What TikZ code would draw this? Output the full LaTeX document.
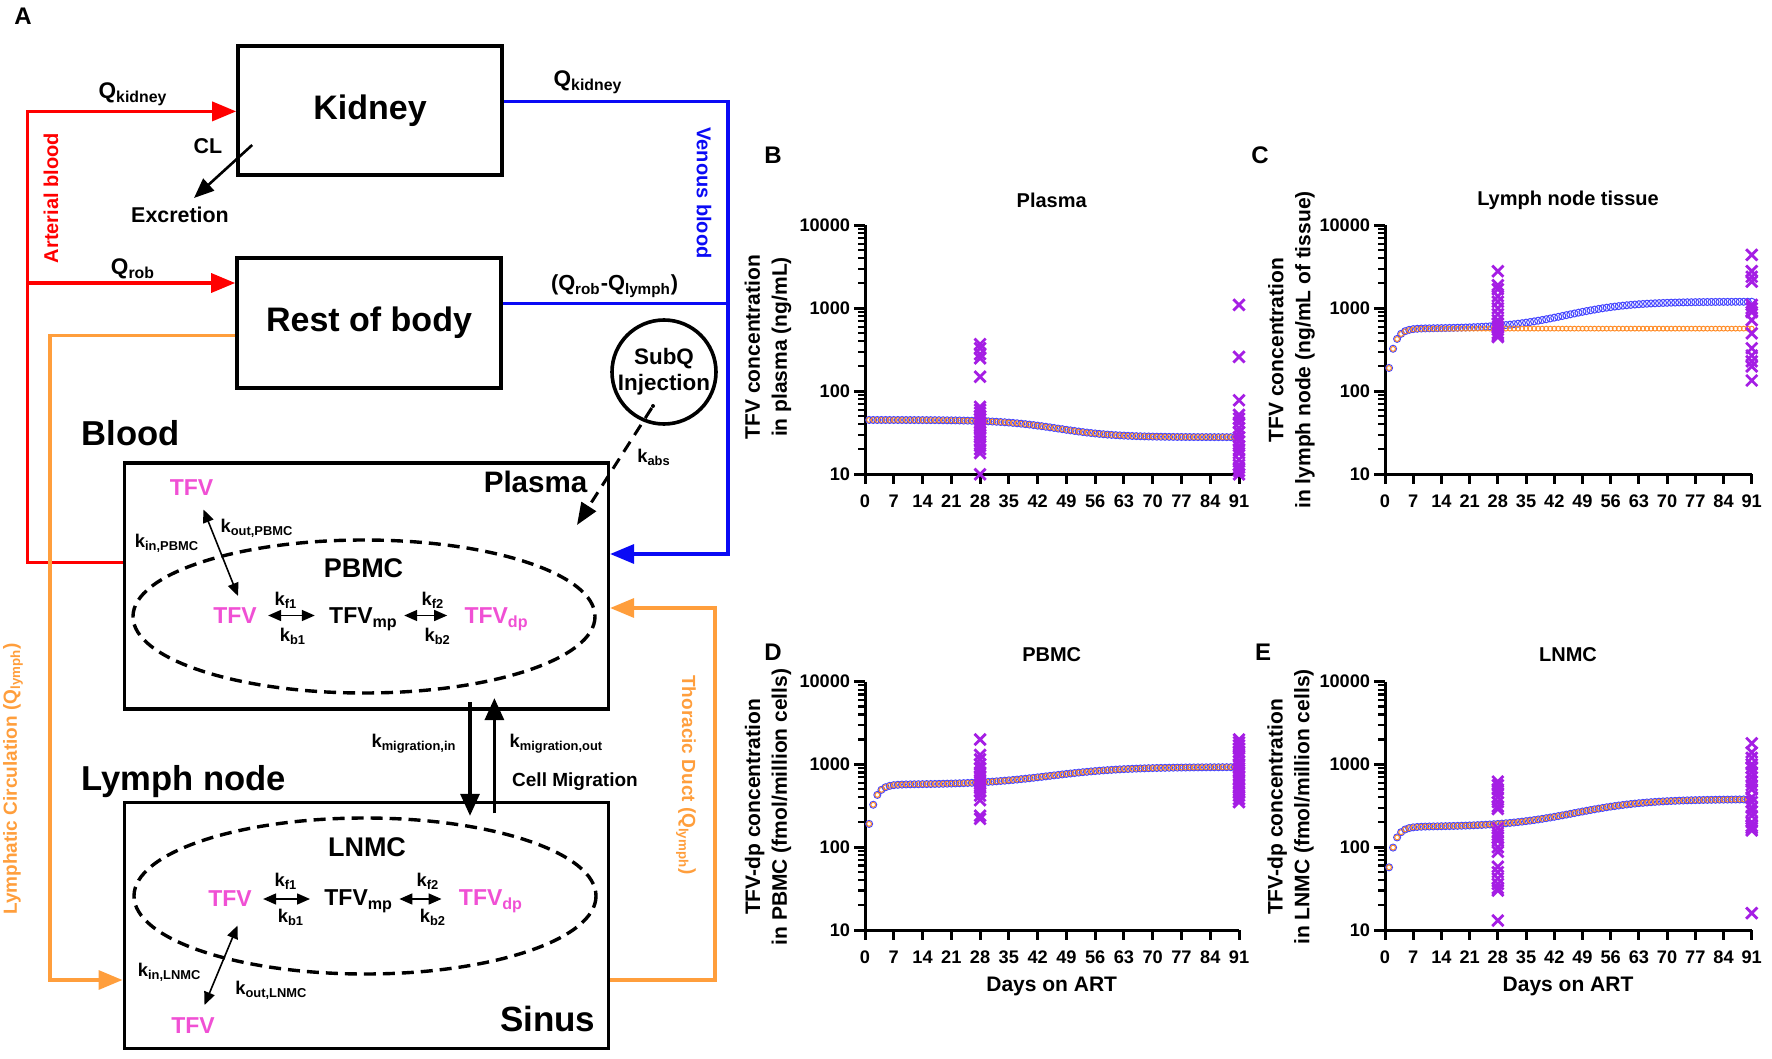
\documentclass[tikz,border=0pt]{standalone}
\usepackage{fontspec}
\setmainfont{Liberation Sans}
\usetikzlibrary{arrows.meta}
\definecolor{artred}{RGB}{255,0,0}
\definecolor{veinblue}{RGB}{10,10,245}
\definecolor{lymphorange}{RGB}{255,158,60}
\definecolor{tfvpink}{RGB}{240,80,212}
\definecolor{simblue}{RGB}{70,70,255}
\definecolor{simorange}{RGB}{255,140,40}
\definecolor{obspurple}{RGB}{165,30,228}

\newcommand{\fsz}[2]{\fontsize{#1}{#2}\selectfont\bfseries}
% one observed value as a cross
\newcommand{\obsx}[2]{\draw[obsmark] (#1,{log10(#2)-1}) +(-2.8pt,-2.8pt) -- +(2.8pt,2.8pt) +(-2.8pt,2.8pt) -- +(2.8pt,-2.8pt);}
% log axes, 10 to 10000, days 0 to 91
\newcommand{\logaxes}{%
  \foreach \d/\lab in {0/10,1/100,2/1000,3/10000}
    \draw[axisline] (0,\d) -- ++(-5.5pt,0) node[ticky] {\lab};
  \foreach \d in {0,1,2}
    \foreach \k in {2,...,9}
      \draw[minortick] (0,{\d+log10(\k)}) -- ++(-3.5pt,0);
  \foreach \t in {0,7,...,91}
    \draw[axisline] (\t,0) -- ++(0,-5pt) node[tickx] {\t};
  \draw[axisline] (0,3) -- (0,0) -- (91,0);
}

\begin{document}
\begin{tikzpicture}[x=0.5pt, y=-0.5pt, font=\bfseries,
    organ/.style={draw, line width=1.8pt, minimum width=132pt, minimum height=64.7pt, font=\fsz{17}{20}},
    region/.style={draw, line width=1.8pt, minimum width=242pt, minimum height=123pt},
    headlabel/.style={inner sep=1pt, font=\fsz{17.3}{20}},
    pooltitle/.style={inner sep=1pt, font=\fsz{13.5}{16}},
    drug/.style={inner sep=1pt, text=tfvpink, font=\fsz{11.5}{14}},
    species/.style={inner sep=1pt, font=\fsz{11.5}{14}},
    rate/.style={inner sep=1pt, font=\fsz{9.2}{11}},
    flowlabel/.style={inner sep=1pt, font=\fsz{11.3}{13}},
    sidelabel/.style={inner sep=1pt, font=\fsz{10}{12}},
    artery/.style={draw=artred, line width=1.7pt},
    vein/.style={draw=veinblue, line width=1.7pt},
    lymphflow/.style={draw=lymphorange, line width=1.7pt},
    bigtip/.style={-{Triangle[length=12pt,width=9.5pt]}},
    cellpool/.style={line width=1.7pt, dash pattern=on 6pt off 3.5pt},
    kdouble/.style={line width=0.8pt, {Triangle[length=6.5pt,width=5.5pt]}-{Triangle[length=6.5pt,width=5.5pt]}},
    migr/.style={line width=1.6pt, -{Triangle[length=11pt,width=9.5pt]}},
    axisline/.style={line width=1.5pt},
    minortick/.style={line width=1.1pt},
    ticky/.style={anchor=east, inner sep=1.2pt, font=\fsz{9.1}{10}},
    tickx/.style={anchor=north, inner sep=4.5pt, font=\fsz{9.1}{10}},
    simb/.style={draw=simblue, line width=0.5pt},
    simo/.style={draw=simorange, line width=0.5pt},
    obsmark/.style={draw=obspurple, line width=1.4pt},
    panellabel/.style={inner sep=1pt, font=\fsz{12}{14}},
    charttitle/.style={inner sep=1pt, font=\fsz{10}{12}},
    ylab/.style={rotate=90, align=center, inner sep=1pt, font=\fsz{10.5}{13.4}},
    xlab/.style={inner sep=1pt, font=\fsz{10.5}{13}}]
\useasboundingbox (0,0) rectangle (1772,1059);

%%% A: model
\node[panellabel] (labA) at (23,16) {A};

% compartments
\node[organ] (kidney) at (370,110.5) {Kidney};
\node[organ] (rob) at (369,323) {Rest of body};
\node[region] (blood) at (366.3,585.8) {};
\node[region] (lymph) at (366.3,925.6) {};
\node[headlabel] (bloodLab) at (131,433) {Blood};
\node[headlabel] (lymphLab) at (184,782) {Lymph node};
\node[headlabel, font=\fsz{14.8}{17}] (plasmaLab) at (535.6,482) {Plasma};
\node[headlabel, font=\fsz{17.5}{20}] (sinusLab) at (547.7,1019) {Sinus};

% arterial blood
\coordinate (artK) at (27.6,111.4);
\coordinate (artR) at (27.6,283);
\coordinate (artB) at (27.6,562.5);
\draw[artery, {Triangle[length=12pt,width=9.5pt]}-] (artK -| kidney.west) -- (artK) -- (artB) -- (artB -| blood.west);
\draw[artery, bigtip] (artR) -- (artR -| rob.west);
\node[flowlabel] (qkA) at (133,94) {Q\textsubscript{kidney}};
\node[flowlabel] (qrA) at (133,269) {Q\textsubscript{rob}};
\node[sidelabel, rotate=90, text=artred] (artLab) at (51,198) {Arterial blood};

% clearance
\node[flowlabel, font=\fsz{10.7}{13}] (clLab) at (208,146) {CL};
\node[flowlabel, font=\fsz{10.7}{13}] (excr) at (180,215) {Excretion};
\draw[line width=1.3pt, -{Triangle[length=10pt,width=8pt]}] ([shift={(16,-32)}]kidney.south west) -- ([shift={(14,-17)}]excr.center);

% venous blood
\coordinate (venK) at (728,101.4);
\coordinate (venR) at (728,303.5);
\coordinate (venB) at (728,554);
\draw[vein, bigtip] (kidney.east |- venK) -- (venK) -- (venB) -- (venB -| blood.east);
\draw[vein] (rob.east |- venR) -- (venR);
\node[flowlabel] (qkV) at (588,82) {Q\textsubscript{kidney}};
\node[flowlabel, font=\fsz{10.9}{13}] (qrV) at (614.6,286) {(Q\textsubscript{rob}-Q\textsubscript{lymph})};
\node[sidelabel, rotate=-90, text=veinblue] (venLab) at (704,193) {Venous blood};

% lymph flow
\coordinate (lymA) at (50,335.7);
\coordinate (lymB) at (50,980);
\coordinate (lymC) at (715,980);
\coordinate (lymD) at (715,608);
\draw[lymphflow, bigtip] (rob.west |- lymA) -- (lymA) -- (lymB) -- (lymB -| lymph.west);
\draw[lymphflow, bigtip] (lymph.east |- lymC) -- (lymC) -- (lymD) -- (lymD -| blood.east);
\node[sidelabel, font=\fsz{9.5}{11}, rotate=90, text=lymphorange] (lymLab) at (13,779) {Lymphatic Circulation (Q\textsubscript{lymph})};
\node[sidelabel, font=\fsz{9.5}{11}, rotate=-90, text=lymphorange] (thdLab) at (686,775) {Thoracic Duct (Q\textsubscript{lymph})};

% subcutaneous dose
\node[draw, circle, line width=1.8pt, minimum size=52pt, align=center, inner sep=0pt, font=\fsz{11.2}{13}] (subq) at (664,372) {SubQ\\Injection};
\node[circle, fill, inner sep=0pt, minimum size=2pt] (subqdot) at (653,406) {};
\draw[line width=1.5pt, dash pattern=on 6pt off 4pt, -{Triangle[length=11pt,width=8.5pt]}] (subqdot) -- ([shift={(41.4,43)}]plasmaLab.center);
\node[rate] (kabs) at (654,457) {k\textsubscript{abs}};

% PBMC
\draw[cellpool] (364,616.5) ellipse [x radius=231, y radius=76.5];
\node[pooltitle] (pbmcLab) at (363.5,568) {PBMC};
\node[drug] (tfvP0) at (191.5,487.5) {TFV};
\node[drug] (tfvP1) at (235,615.5) {TFV};
\node[species] (mpP) at (363.5,619) {TFV\textsubscript{mp}};
\node[drug] (dpP) at (496.6,619) {TFV\textsubscript{dp}};
\draw[kdouble] ([shift={(12,22)}]tfvP0.center) -- ([shift={(3,-19.5)}]tfvP1.center);
\draw[kdouble, shorten <=4.5pt, shorten >=6pt] (tfvP1.east) -- (tfvP1.east -| mpP.west);
\draw[kdouble, shorten <=2pt, shorten >=7.5pt] (mpP.east |- tfvP1.east) -- (tfvP1.east -| dpP.west);
\node[rate] (kinP) at (167,543) {k\textsubscript{in,PBMC}};
\node[rate] (koutP) at (257,528.5) {k\textsubscript{out,PBMC}};
\node[rate] (kf1P) at (286,600) {k\textsubscript{f1}};
\node[rate] (kb1P) at (293,636) {k\textsubscript{b1}};
\node[rate] (kf2P) at (433,600) {k\textsubscript{f2}};
\node[rate] (kb2P) at (437.7,636) {k\textsubscript{b2}};

% LNMC
\draw[cellpool] (365,896) ellipse [x radius=231, y radius=78];
\node[pooltitle] (lnmcLab) at (367,847) {LNMC};
\node[drug] (tfvL1) at (230,899) {TFV};
\node[species] (mpL) at (358.7,901) {TFV\textsubscript{mp}};
\node[drug] (dpL) at (491,901) {TFV\textsubscript{dp}};
\node[drug] (tfvL2) at (193,1026) {TFV};
\draw[kdouble] ([shift={(7.5,26.6)}]tfvL1.center) -- ([shift={(11.5,-21)}]tfvL2.center);
\draw[kdouble, shorten <=4.5pt, shorten >=6pt] (tfvL1.east) -- (tfvL1.east -| mpL.west);
\draw[kdouble, shorten <=2pt, shorten >=7.5pt] (mpL.east |- tfvL1.east) -- (tfvL1.east -| dpL.west);
\node[rate] (kinL) at (169.6,972) {k\textsubscript{in,LNMC}};
\node[rate] (koutL) at (271.4,990) {k\textsubscript{out,LNMC}};
\node[rate] (kf1L) at (286,881) {k\textsubscript{f1}};
\node[rate] (kb1L) at (291,917) {k\textsubscript{b1}};
\node[rate] (kf2L) at (428,881) {k\textsubscript{f2}};
\node[rate] (kb2L) at (433,917) {k\textsubscript{b2}};

% cell migration
\coordinate (migIn) at (470,0);
\coordinate (migOut) at (494.4,0);
\draw[migr] ([yshift=4.25pt]blood.south -| migIn) -- ([yshift=-7.5pt]lymph.north -| migIn);
\draw[migr] ([yshift=-6.25pt]lymph.north -| migOut) -- ([yshift=6.25pt]blood.south -| migOut);
\node[rate] (kmigIn) at (414,744) {k\textsubscript{migration,in}};
\node[rate] (kmigOut) at (556.4,744) {k\textsubscript{migration,out}};
\node[rate, font=\fsz{9.5}{11}] (cellMig) at (575,782) {Cell Migration};

%%% B: plasma
\node[panellabel] (labB) at (773,155) {B};
\node[charttitle] (titB) at (1051.7,200) {Plasma};
\node[ylab] (ylabB) at (768,347) {TFV concentration\\in plasma (ng/mL)};
\begin{scope}[shift={(865,474.3)}, x=2.055pt, y=41.5pt]
  \logaxes
  \foreach \t in {1,...,91}{
    \pgfmathsetmacro{\lv}{0.447+0.208/(1+exp((\t-47)/7))}
    \draw[simb] (\t,\lv) circle[radius=1.75pt];
    \draw[simo] (\t,\lv) circle[radius=1.2pt];
  }
  \foreach \v in {370,330,280,250,150,65,60,55,50,46,42,38,35,32,30,28,25,22,20,18,10} {\obsx{28}{\v}}
  \foreach \v in {1100,260,78,52,47,42,36,32,28,25,22,20,18,15,13,12,11,10} {\obsx{91}{\v}}
\end{scope}

%%% C: lymph node tissue
\node[panellabel] (labC) at (1260,155) {C};
\node[charttitle] (titC) at (1568,200) {Lymph node tissue};
\node[ylab] (ylabC) at (1291.5,350) {TFV concentration\\in lymph node (ng/mL of tissue)};
\begin{scope}[shift={(1385,474.3)}, x=2.015pt, y=41.5pt]
  \logaxes
  \foreach \t in {1,...,91}{
    \pgfmathsetmacro{\lo}{1.755-0.475*exp(-min((\t-1)/1.5,20))}
    \pgfmathsetmacro{\lb}{\lo+0.325/(1+exp(-(\t-45)/8))}
    \draw[simb] (\t,\lb) circle[radius=1.75pt];
    \draw[simo] (\t,\lo) circle[radius=1.2pt];
  }
  \foreach \v in {2800,1900,1700,1400,1200,1000,850,720,650,600,550,500,470,450} {\obsx{28}{\v}}
  \foreach \v in {4400,2800,2400,2100,1100,1000,900,720,500,330,270,230,200,135} {\obsx{91}{\v}}
\end{scope}

%%% D: PBMC
\node[panellabel] (labD) at (773,652) {D};
\node[charttitle] (titD) at (1051.7,655) {PBMC};
\node[ylab] (ylabD) at (768,807) {TFV-dp concentration\\in PBMC (fmol/million cells)};
\node[xlab] (xlabD) at (1051.7,986) {Days on ART};
\begin{scope}[shift={(865,930)}, x=2.055pt, y=41.4pt]
  \logaxes
  \foreach \t in {1,...,91}{
    \pgfmathsetmacro{\lv}{1.755-0.475*exp(-min((\t-1)/1.5,20))+0.213/(1+exp(-(\t-45)/9))}
    \draw[simb] (\t,\lv) circle[radius=1.75pt];
    \draw[simo] (\t,\lv) circle[radius=1.2pt];
  }
  \foreach \v in {2000,1300,1150,1000,900,800,720,650,580,520,470,420,370,240,220} {\obsx{28}{\v}}
  \foreach \v in {2000,1850,1700,1550,1400,1250,1100,1000,900,800,720,650,580,520,470,420,380,350} {\obsx{91}{\v}}
\end{scope}

%%% E: LNMC
\node[panellabel] (labE) at (1263,652) {E};
\node[charttitle] (titE) at (1568,655) {LNMC};
\node[ylab] (ylabE) at (1290.5,807) {TFV-dp concentration\\in LNMC (fmol/million cells)};
\node[xlab] (xlabE) at (1568,986) {Days on ART};
\begin{scope}[shift={(1385,930)}, x=2.015pt, y=41.4pt]
  \logaxes
  \foreach \t in {1,...,91}{
    \pgfmathsetmacro{\lv}{1.245-0.49*exp(-min((\t-1)/1.5,20))+0.335/(1+exp(-(\t-47)/9))}
    \draw[simb] (\t,\lv) circle[radius=1.75pt];
    \draw[simo] (\t,\lv) circle[radius=1.2pt];
  }
  \foreach \v in {620,560,500,450,400,350,310,290,170,150,140,130,120,100,88,58,50,42,36,32,30,13} {\obsx{28}{\v}}
  \foreach \v in {1800,1400,1200,1000,900,800,700,620,560,500,400,350,300,270,240,200,180,170,160,16} {\obsx{91}{\v}}
\end{scope}
\end{tikzpicture}
\end{document}
